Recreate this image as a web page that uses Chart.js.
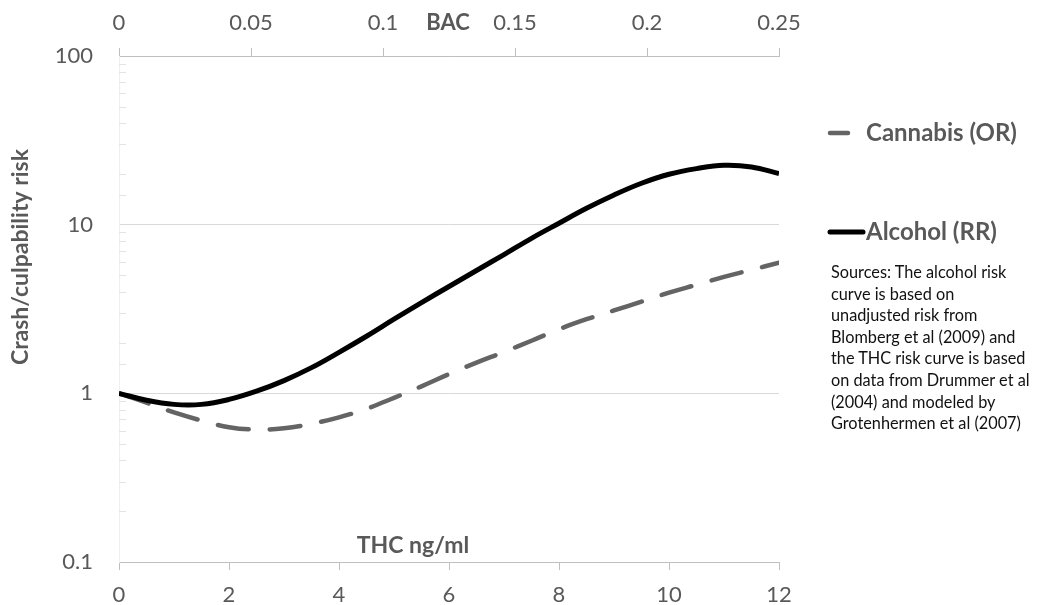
<!DOCTYPE html>
<html lang="en">
<head>
    <meta charset="UTF-8">
    <title>Crash risk: THC vs BAC</title>
    <script src="https://cdn.jsdelivr.net/npm/chart.js"></script>
    <style>
        body, html {
            margin: 0;
            background-color: #fff;
        }
        .chart-wrap {
            position: relative;
            width: 1037px;
            height: 605px;
        }
        /* source note sits under the legend on the right */
        .sources {
            position: absolute;
            left: 831px;
            top: 261px;
            font-family: Lato, "Open Sans", sans-serif;
            font-size: 16.3px;
            line-height: 21.6px;
            color: #111;
            white-space: nowrap;
        }
    </style>
</head>
<body>
<div class="chart-wrap">
    <canvas id="riskChart"></canvas>
    <div class="sources">
        Sources: The alcohol risk<br>
        curve is based on<br>
        unadjusted risk from<br>
        Blomberg et al (2009) and<br>
        the THC risk curve is based<br>
        on data from Drummer et al<br>
        (2004) and modeled by<br>
        Grotenhermen et al (2007)
    </div>
</div>

<script>
    // THC concentration (ng/ml) sample points
    const thc = [0, 0.5, 1, 1.5, 2, 2.5, 3, 3.5, 4, 4.5, 5, 5.5, 6,
                 6.5, 7, 7.5, 8, 8.5, 9, 9.5, 10, 10.5, 11, 11.5, 12];
    // risk values
    const alcoholRR = [1.0, 0.91, 0.86, 0.86, 0.92, 1.03, 1.19, 1.42, 1.75, 2.18, 2.75, 3.45, 4.3,
                       5.35, 6.65, 8.3, 10.2, 12.5, 15.0, 17.6, 19.9, 21.5, 22.5, 22.0, 20.1];
    const cannabisOR = [1.0, 0.88, 0.77, 0.69, 0.63, 0.61, 0.62, 0.66, 0.72, 0.81, 0.94, 1.1, 1.3,
                        1.52, 1.76, 2.05, 2.4, 2.75, 3.1, 3.5, 3.95, 4.4, 4.9, 5.4, 5.95];
    const thcTicks = [0, 2, 4, 6, 8, 10, 12];
    const bacTicks = [0, 0.05, 0.1, 0.15, 0.2, 0.25];
    const riskTicks = [0.1, 1, 10, 100];

    const labelFont = 'Lato, "Open Sans", sans-serif';
    const grey = '#595959';

    function toPoints(values) {
        return thc.map((t, i) => ({x: t, y: values[i]}));
    }

    function isDecade(v) {
        const l = Math.log10(v);
        return Math.abs(l - Math.round(l)) < 1e-9;
    }

    // extra text, legend and the small inside minor ticks
    const decorations = {
        id: 'decorations',
        afterDraw(chart) {
            const ctx = chart.ctx;
            const y = chart.scales.y;
            const area = chart.chartArea;
            ctx.save();

            // minor ticks on the left axis
            ctx.strokeStyle = '#e3e3e3';
            ctx.lineWidth = 1;
            y.ticks.forEach(t => {
                if (isDecade(t.value)) return;
                const py = Math.round(y.getPixelForValue(t.value)) + 0.5;
                ctx.beginPath();
                ctx.moveTo(area.left, py);
                ctx.lineTo(area.left + 7, py);
                ctx.stroke();
            });

            ctx.fillStyle = grey;
            ctx.font = 'bold 23px ' + labelFont;
            ctx.textAlign = 'center';
            ctx.textBaseline = 'middle';

            // y axis title
            ctx.save();
            ctx.translate(21, 257);
            ctx.rotate(-Math.PI / 2);
            ctx.fillText('Crash/culpability risk', 0, 0);
            ctx.restore();

            // axis names
            ctx.font = 'bold 23px ' + labelFont;
            ctx.fillText('THC ng/ml', 413, 546);
            ctx.font = 'bold 22px ' + labelFont;
            ctx.fillText('BAC', 448, 23);

            // legend
            const ds = chart.data.datasets;
            const rows = [{d: ds[1], y: 133}, {d: ds[0], y: 232}];
            ctx.font = 'bold 24px ' + labelFont;
            ctx.textAlign = 'left';
            rows.forEach(r => {
                ctx.strokeStyle = r.d.borderColor;
                ctx.lineWidth = r.d.borderWidth;
                ctx.lineCap = 'round';
                ctx.beginPath();
                if (r.d.borderDash) {
                    ctx.moveTo(830, r.y);
                    ctx.lineTo(848, r.y);
                } else {
                    ctx.moveTo(830, r.y);
                    ctx.lineTo(863, r.y);
                }
                ctx.stroke();
                ctx.fillStyle = grey;
                ctx.fillText(r.d.label, 866, r.y);
            });
            ctx.restore();
        }
    };

    new Chart(document.getElementById('riskChart'), {
        type: 'line',
        data: {
            datasets: [
                {
                    label: 'Alcohol (RR)',
                    data: toPoints(alcoholRR),
                    borderColor: '#000',
                    borderWidth: 5,
                    pointRadius: 0,
                    tension: 0.4,
                    order: 0
                },
                {
                    label: 'Cannabis (OR)',
                    data: toPoints(cannabisOR),
                    borderColor: '#646464',
                    borderWidth: 4.5,
                    borderDash: [31, 21],
                    borderCapStyle: 'round',
                    pointRadius: 0,
                    tension: 0.4,
                    order: 1
                }
            ]
        },
        options: {
            responsive: true,
            maintainAspectRatio: false,
            animation: false,
            layout: {
                padding: {left: 0, right: 258, top: 0, bottom: 0}
            },
            plugins: {
                legend: {display: false},
                tooltip: {enabled: false}
            },
            scales: {
                x: {
                    type: 'linear',
                    position: 'bottom',
                    min: 0,
                    max: 12,
                    afterBuildTicks: s => { s.ticks = thcTicks.map(v => ({value: v})); },
                    ticks: {
                        color: grey,
                        font: {family: labelFont, size: 22},
                        padding: 12,
                        maxRotation: 0
                    },
                    grid: {
                        drawOnChartArea: false,
                        color: '#bfbfbf',
                        tickLength: 8
                    },
                    border: {color: '#bfbfbf'},
                    afterFit: s => { s.height = 43; }
                },
                x2: {
                    type: 'linear',
                    position: 'top',
                    min: 0,
                    max: 0.25,
                    afterBuildTicks: s => { s.ticks = bacTicks.map(v => ({value: v})); },
                    ticks: {
                        color: grey,
                        font: {family: labelFont, size: 22},
                        padding: 12,
                        maxRotation: 0,
                        callback: v => String(Math.round(v * 100) / 100)
                    },
                    grid: {
                        drawOnChartArea: false,
                        color: '#bfbfbf',
                        tickLength: 8
                    },
                    border: {color: '#bfbfbf'},
                    afterFit: s => { s.height = 56; }
                },
                y: {
                    type: 'logarithmic',
                    min: 0.1,
                    max: 100,
                    ticks: {
                        color: grey,
                        font: {family: labelFont, size: 22},
                        padding: 26,
                        autoSkip: false,
                        callback: v => (riskTicks.includes(v) || isDecade(v)) ? String(v) : ''
                    },
                    grid: {
                        drawTicks: false,
                        color: c => (c.tick && isDecade(c.tick.value)) ? '#d9d9d9' : 'rgba(0,0,0,0)'
                    },
                    border: {color: '#efefef'},
                    afterFit: s => { s.width = 119; }
                }
            }
        },
        plugins: [decorations]
    });
</script>
</body>
</html>
